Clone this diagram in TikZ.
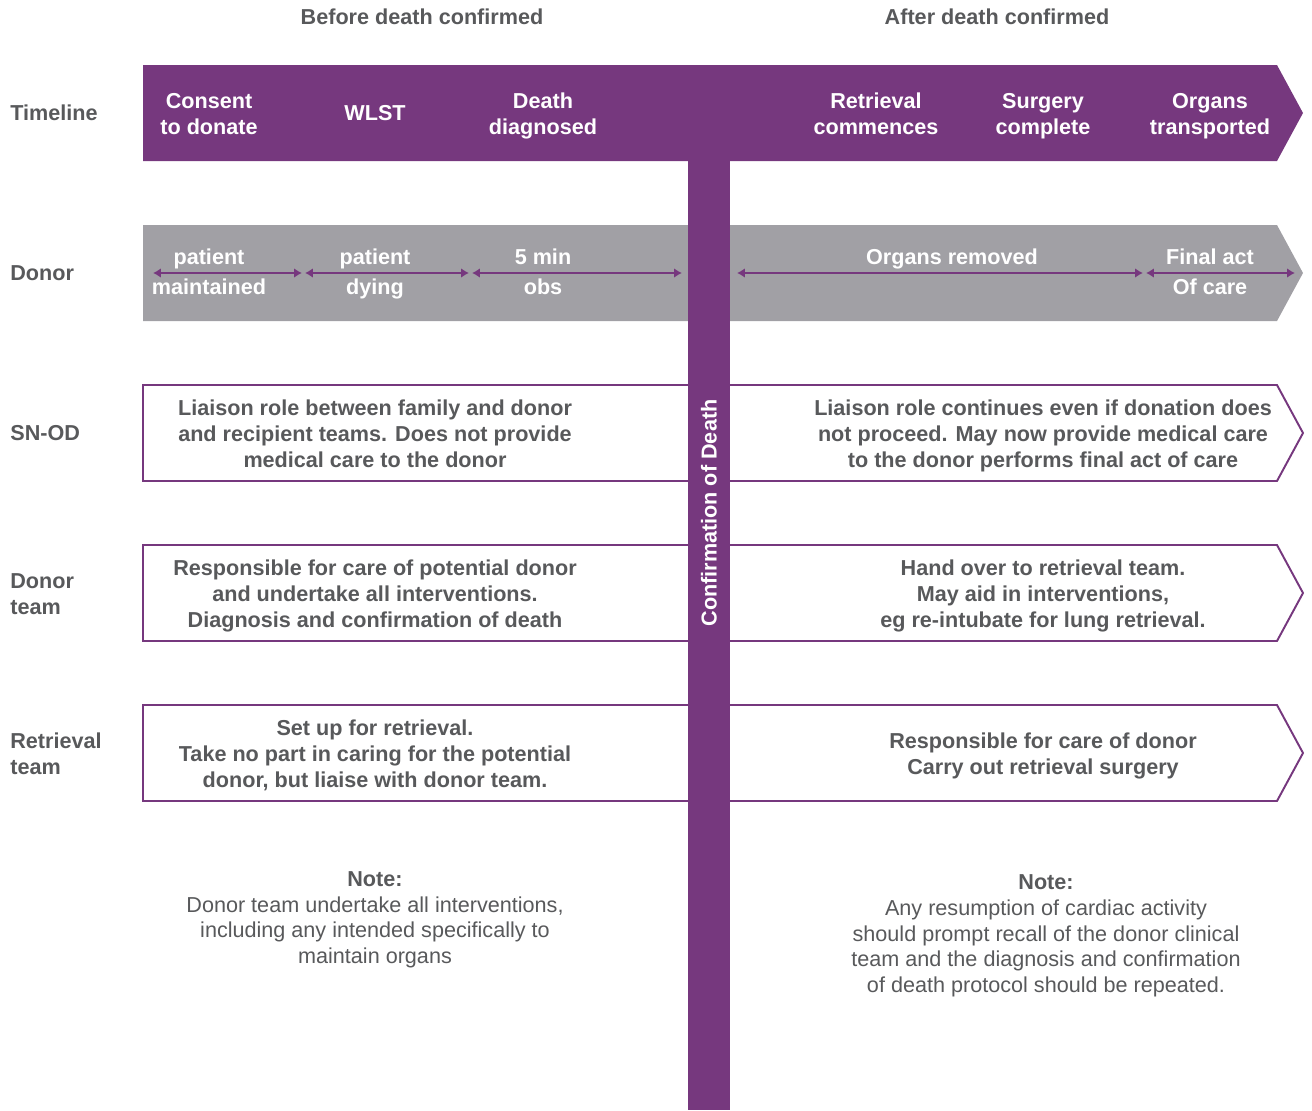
\documentclass[tikz,border=0pt]{standalone}
\usepackage{fontspec}
\setmainfont{Liberation Sans}
\usetikzlibrary{arrows.meta}
\definecolor{nhspurple}{RGB}{118,56,126}
\definecolor{bargrey}{RGB}{161,160,165}
\definecolor{textgrey}{RGB}{88,89,91}

\begin{document}
\begin{tikzpicture}
  [x=0.02cm,y=-0.02cm,
   every node/.style={font=\fontsize{12.3}{14.8}\selectfont\bfseries,align=center,inner sep=0pt,
     execute at begin node=\strut,execute at end node=\strut},
   rowlabel/.style={anchor=west,text=textgrey,align=left},
   onbar/.style={text=white},
   onbartwo/.style={text=white,font=\fontsize{12.3}{17}\selectfont\bfseries},
   inbox/.style={text=textgrey},
   note/.style={text=textgrey,font=\fontsize{12.3}{14.6}\selectfont},
   span/.style={nhspurple,line width=1.1pt,{Latex[length=4.5pt,width=5.5pt]}-{Latex[length=4.5pt,width=5.5pt]}},
   outline/.style={draw=nhspurple,line width=1.1pt}]
  \useasboundingbox (0,0) rectangle (1312,1110);

  % bars and boxes
  \fill[nhspurple] (143,65) -- (1277,65) -- (1303,113) -- (1277,161) -- (143,161) -- cycle;
  \fill[bargrey] (143,225) -- (1277,225) -- (1303,273) -- (1277,321) -- (143,321) -- cycle;
  \foreach \top/\mid/\bot in {385/433/481,545/593/641,705/753/801} {
    \draw[outline] (688,\top) -- (143,\top) -- (143,\bot) -- (688,\bot);
    \draw[outline] (730,\top) -- (1277,\top) -- (1303,\mid) -- (1277,\bot) -- (730,\bot);
  }
  \fill[nhspurple] (688,158) rectangle (730,1110);
  \node[onbar,rotate=90] (cod) at (711.5,513) {Confirmation of Death};

  % headings
  \node[text=textgrey] (before) at (422,19.5) {Before death confirmed};
  \node[text=textgrey] (after) at (997,19.5) {After death confirmed};

  % row labels
  \node[rowlabel] (timeline) at (10,115.5) {Timeline};
  \node[rowlabel] (donor) at (10,275.5) {Donor};
  \node[rowlabel] (snod) at (10,435.5) {SN-OD};
  \node[rowlabel] (donorteam) at (10,597.5) {Donor\\team};
  \node[rowlabel] (retrteam) at (10,757.5) {Retrieval\\team};

  % timeline
  \node[onbar] (consent) at (209,117.5) {Consent\\to donate};
  \node[onbar] (wlst) at (375,115.5) {WLST};
  \node[onbar] (diag) at (543,117.5) {Death\\diagnosed};
  \node[onbar] (commence) at (876,117.5) {Retrieval\\commences};
  \node[onbar] (surgery) at (1043,117.5) {Surgery\\complete};
  \node[onbar] (transport) at (1210,117.5) {Organs\\transported};

  % donor
  \node[onbartwo] (maintained) at (209,276.5) {patient\\maintained};
  \node[onbartwo] (dying) at (375,276.5) {patient\\dying};
  \node[onbartwo] (obs) at (543,276.5) {5 min\\obs};
  \node[onbar] (removed) at (952,259.5) {Organs removed};
  \node[onbartwo] (finalact) at (1210,276.5) {Final act\\Of care};
  \coordinate (a1) at (153,273);
  \coordinate (a2) at (302,273);
  \coordinate (a3) at (305,273);
  \coordinate (a4) at (469,273);
  \coordinate (a5) at (472,273);
  \coordinate (a6) at (682,273);
  \coordinate (b1) at (737,273);
  \coordinate (b2) at (1143,273);
  \coordinate (b3) at (1146,273);
  \coordinate (b4) at (1295,273);
  \foreach \from/\to in {a1/a2,a3/a4,a5/a6,b1/b2,b3/b4}
    \draw[span] (\from) -- (\to);

  % sn-od
  \node[inbox] (snodl) at (375,437.5) {Liaison role between family and donor\\and recipient teams. Does not provide\\medical care to the donor};
  \node[inbox] (snodr) at (1043,437.5) {Liaison role continues even if donation does\\not proceed. May now provide medical care\\to the donor performs final act of care};

  % donor team
  \node[inbox] (dtl) at (375,597.5) {Responsible for care of potential donor\\and undertake all interventions.\\Diagnosis and confirmation of death};
  \node[inbox] (dtr) at (1043,597.5) {Hand over to retrieval team.\\May aid in interventions,\\eg re-intubate for lung retrieval.};

  % retrieval team
  \node[inbox] (rtl) at (375,757.5) {Set up for retrieval.\\Take no part in caring for the potential\\donor, but liaise with donor team.};
  \node[inbox] (rtr) at (1043,757.5) {Responsible for care of donor\\Carry out retrieval surgery};

  % notes
  \node[note] (notel) at (375,921.5) {\textbf{Note:}\\Donor team undertake all interventions,\\including any intended specifically to\\maintain organs};
  \node[note] (noter) at (1046,937.5) {\textbf{Note:}\\Any resumption of cardiac activity\\should prompt recall of the donor clinical\\team and the diagnosis and confirmation\\of death protocol should be repeated.};

\end{tikzpicture}
\end{document}
